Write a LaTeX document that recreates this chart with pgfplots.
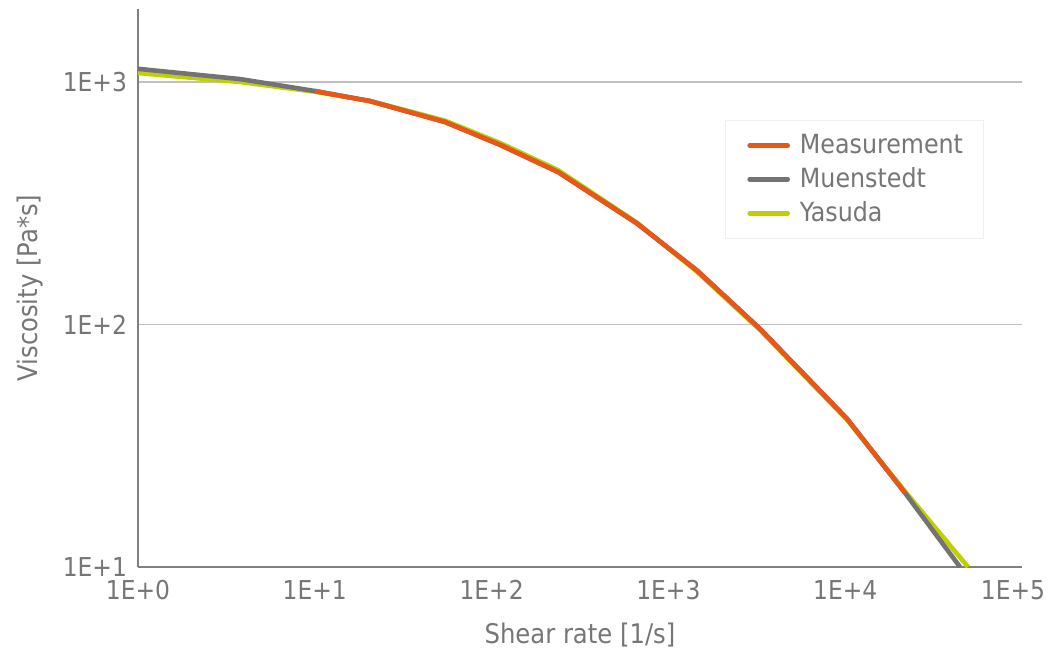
\documentclass[border=0pt]{standalone}
\usepackage{pgfplots}
\pgfplotsset{compat=1.18}
\usepackage{fontspec}
\setmainfont{DejaVu Sans Condensed}
\definecolor{txtgray}{HTML}{767676}
\definecolor{axgray}{HTML}{808080}
\definecolor{gridgray}{HTML}{C0C0C0}
\definecolor{meas}{HTML}{E8561A}
\definecolor{muen}{HTML}{737373}
\definecolor{yas}{HTML}{BFD000}
\begin{document}
\begin{tikzpicture}
\begin{axis}[
  scale only axis,
  width=442pt, height=279pt,
  xmode=log, ymode=log,
  xmin=1, xmax=1e5, ymin=10, ymax=2000,
  axis lines=left,
  axis line style={draw=axgray, line width=1pt, -},
  xtick={1,10,100,1000,10000,100000},
  xticklabels={1E+0,1E+1,1E+2,1E+3,1E+4,\kern-9pt 1E+5},
  ytick={10,100,1000},
  yticklabels={1E+1,1E+2,1E+3},
  xminorticks=false, yminorticks=false,
  major tick length=0pt,
  ymajorgrids,
  major grid style={draw=gridgray, line width=0.6pt},
  tick label style={font=\fontsize{13}{16}\selectfont, text=txtgray},
  xticklabel style={yshift=-3pt},
  yticklabel style={xshift=-2pt},
  xlabel={Shear rate [1/s]},
  ylabel={Viscosity [Pa*s]},
  label style={font=\fontsize{13.5}{16}\selectfont, text=txtgray},
  xlabel style={yshift=-5pt},
  ylabel style={yshift=3pt},
  legend style={at={(0.664,0.801)}, anchor=north west, draw=black!6, fill=none,
    font=\fontsize{13.2}{16}\selectfont, text=txtgray,
    inner xsep=8pt, inner ysep=5pt, row sep=1.5pt},
  legend cell align=left,
  reverse legend,
  legend image code/.code={\draw[#1, line cap=round] (3pt,0cm) -- (22pt,0cm); \path (0pt,0pt) (25pt,0pt);},
]
\addplot[yas, line width=2.3pt] coordinates {
(1,1089) (3.78,1000) (10,912) (20.5,836) (54.5,693) (112,560) (238,433) (664,263) (1452,165) (3296,95) (10230,40.5) (21800,20.5) (49500,10)};
\addlegendentry{Yasuda}
\addplot[muen, line width=2.3pt] coordinates {
(1,1133) (3.78,1028) (10,918) (20.5,834) (54.5,684) (112,550) (238,425) (664,261) (1452,167) (3296,96) (10230,40.9) (21800,20.2) (44600,10)};
\addlegendentry{Muenstedt}
\addplot[meas, line width=2.3pt] coordinates {
(10,918) (20.5,834) (54.5,684) (112,550) (238,425) (664,261) (1452,167) (3296,96) (10230,40.9) (21800,20.2)};
\addlegendentry{Measurement}
\end{axis}
\pgfresetboundingbox
\path ([xshift=-69pt,yshift=-44pt]current axis.south west) rectangle ([xshift=13.5pt,yshift=4.5pt]current axis.north east);
\end{tikzpicture}
\end{document}
